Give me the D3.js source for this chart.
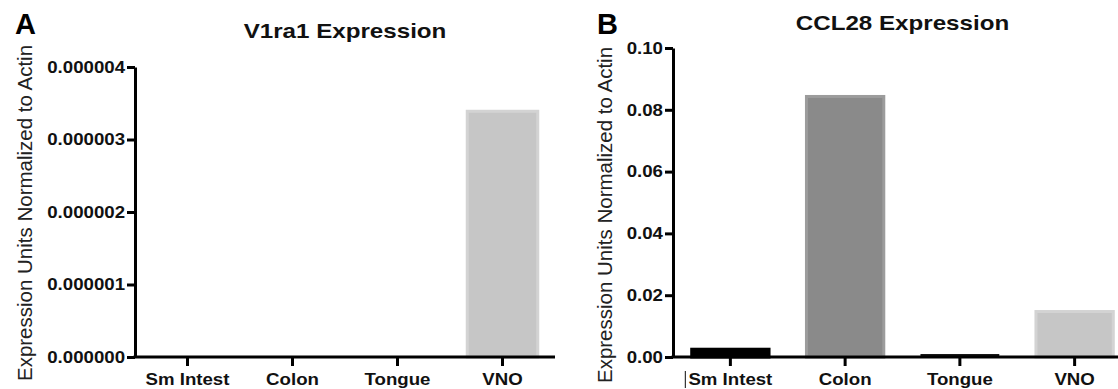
<!DOCTYPE html>
<html>
<head>
<meta charset="utf-8">
<script src="https://d3js.org/d3.v7.min.js"></script>
<style>
  body { margin: 0; background: #fff; }
  svg { display: block; font-family: "Liberation Sans", Arial, sans-serif; }
</style>
</head>
<body>
<div id="chart"></div>
<script>
// tissues on the x axis
const categories = ["Sm Intest", "Colon", "Tongue", "VNO"];

// panel A: V1ra1
const v1ra1Values = [0, 0, 0, 0.00000341];
const v1ra1Ticks = [0, 0.000001, 0.000002, 0.000003, 0.000004];

// panel B: CCL28
const ccl28Values = [0.003, 0.0848, 0.0012, 0.0152];
const ccl28Ticks = [0, 0.02, 0.04, 0.06, 0.08, 0.1];

const barFill = ["#000000", "#8a8a8a", "#111111", "#c6c6c6"];
const barEdge = ["#000000", "#9c9c9c", "#111111", "#d3d3d3"];

const width = 1118;
const height = 389;
const stretch = 1.13; // glyphs in the figure are a bit wide

const svg = d3
  .select("#chart")
  .append("svg")
  .attr("width", width)
  .attr("height", height);

function widen(sel, k) {
  sel.each(function () {
    const len = this.getComputedTextLength();
    d3.select(this)
      .attr("textLength", len * (k || stretch))
      .attr("lengthAdjust", "spacingAndGlyphs");
  });
}

function drawPanel(opt) {
  const x = d3
    .scaleBand()
    .domain(categories)
    .range(opt.xRange)
    .paddingInner(0.3)
    .paddingOuter(0.15);

  const y = d3.scaleLinear().domain(opt.yDomain).range([357, opt.yTop]);

  const g = svg.append("g");

  // bars
  g.selectAll("rect.bar")
    .data(opt.values)
    .enter()
    .append("rect")
    .attr("class", "bar")
    .attr("x", (d, i) => x(categories[i]) + 1.5)
    .attr("width", x.bandwidth() - 3)
    .attr("y", (d) => y(d) + 1.5)
    .attr("height", (d) => Math.max(0, y(0) - y(d) - 1.5))
    .attr("fill", (d, i) => barFill[i])
    .attr("stroke", (d, i) => barEdge[i])
    .attr("stroke-width", (d) => (y(0) - y(d) > 4 ? 3 : 1.5));

  // y axis
  const yAxis = g
    .append("g")
    .attr("transform", `translate(${opt.xRange[0]},0)`)
    .call(
      d3
        .axisLeft(y)
        .tickValues(opt.ticks)
        .tickFormat(d3.format(opt.fmt))
        .tickSize(8)
        .tickSizeOuter(0)
        .tickPadding(2)
    );
  yAxis.select(".domain").attr("stroke", "#000").attr("stroke-width", 3);
  yAxis.selectAll(".tick line").attr("stroke", "#000").attr("stroke-width", 3);
  yAxis
    .selectAll(".tick text")
    .attr("fill", "#111")
    .attr("font-size", 16.5)
    .attr("font-weight", "bold")
    .attr("font-family", "Liberation Sans, Arial, sans-serif");
  widen(yAxis.selectAll(".tick text"));

  // x axis
  const xAxis = g
    .append("g")
    .attr("transform", `translate(0,${y(0)})`)
    .call(d3.axisBottom(x).tickSize(9).tickSizeOuter(0).tickPadding(7));
  xAxis
    .select(".domain")
    .attr("d", `M${opt.xRange[0] - 1.5},0H${Math.min(opt.xRange[1], width)}`)
    .attr("stroke", "#000")
    .attr("stroke-width", 3);
  xAxis.selectAll(".tick line").attr("stroke", "#000").attr("stroke-width", 3);
  xAxis
    .selectAll(".tick text")
    .attr("fill", "#111")
    .attr("font-size", 16.5)
    .attr("font-weight", "bold")
    .attr("font-family", "Liberation Sans, Arial, sans-serif");
  widen(xAxis.selectAll(".tick text"));

  // y axis title
  g.append("text")
    .attr("transform", `translate(${opt.yTitleX},${opt.yTitleY}) rotate(-90)`)
    .attr("text-anchor", "middle")
    .attr("font-size", 20.5)
    .attr("fill", "#222")
    .text("Expression Units Normalized to Actin");

  // chart title
  const t = g
    .append("text")
    .attr("x", (opt.xRange[0] + opt.xRange[1]) / 2)
    .attr("y", opt.titleY)
    .attr("text-anchor", "middle")
    .attr("font-size", 21)
    .attr("font-weight", "bold")
    .attr("fill", "#111")
    .text(opt.title);
  widen(t, 1.15);

  // panel letter
  g.append("text")
    .attr("x", opt.letterX)
    .attr("y", 34)
    .attr("font-size", 29)
    .attr("font-weight", "bold")
    .attr("fill", "#000")
    .text(opt.letter);

  return x;
}

drawPanel({
  values: v1ra1Values,
  ticks: v1ra1Ticks,
  yDomain: [0, 0.000004],
  yTop: 67,
  fmt: ".6f",
  xRange: [135, 555],
  yTitleX: 32,
  yTitleY: 213,
  title: "V1ra1 Expression",
  titleY: 38,
  letter: "A",
  letterX: 15,
});

const xB = drawPanel({
  values: ccl28Values,
  ticks: ccl28Ticks,
  yDomain: [0, 0.1],
  yTop: 48,
  fmt: ".2f",
  xRange: [673, 1132],
  yTitleX: 612,
  yTitleY: 215,
  title: "CCL28 Expression",
  titleY: 30,
  letter: "B",
  letterX: 597,
});

// small stray mark before the first label in panel B
const strayX = xB(categories[0]) + xB.bandwidth() / 2 - 45;
svg
  .append("line")
  .attr("x1", strayX)
  .attr("x2", strayX)
  .attr("y1", 371)
  .attr("y2", 388)
  .attr("stroke", "#333")
  .attr("stroke-width", 1.2);
</script>
</body>
</html>
